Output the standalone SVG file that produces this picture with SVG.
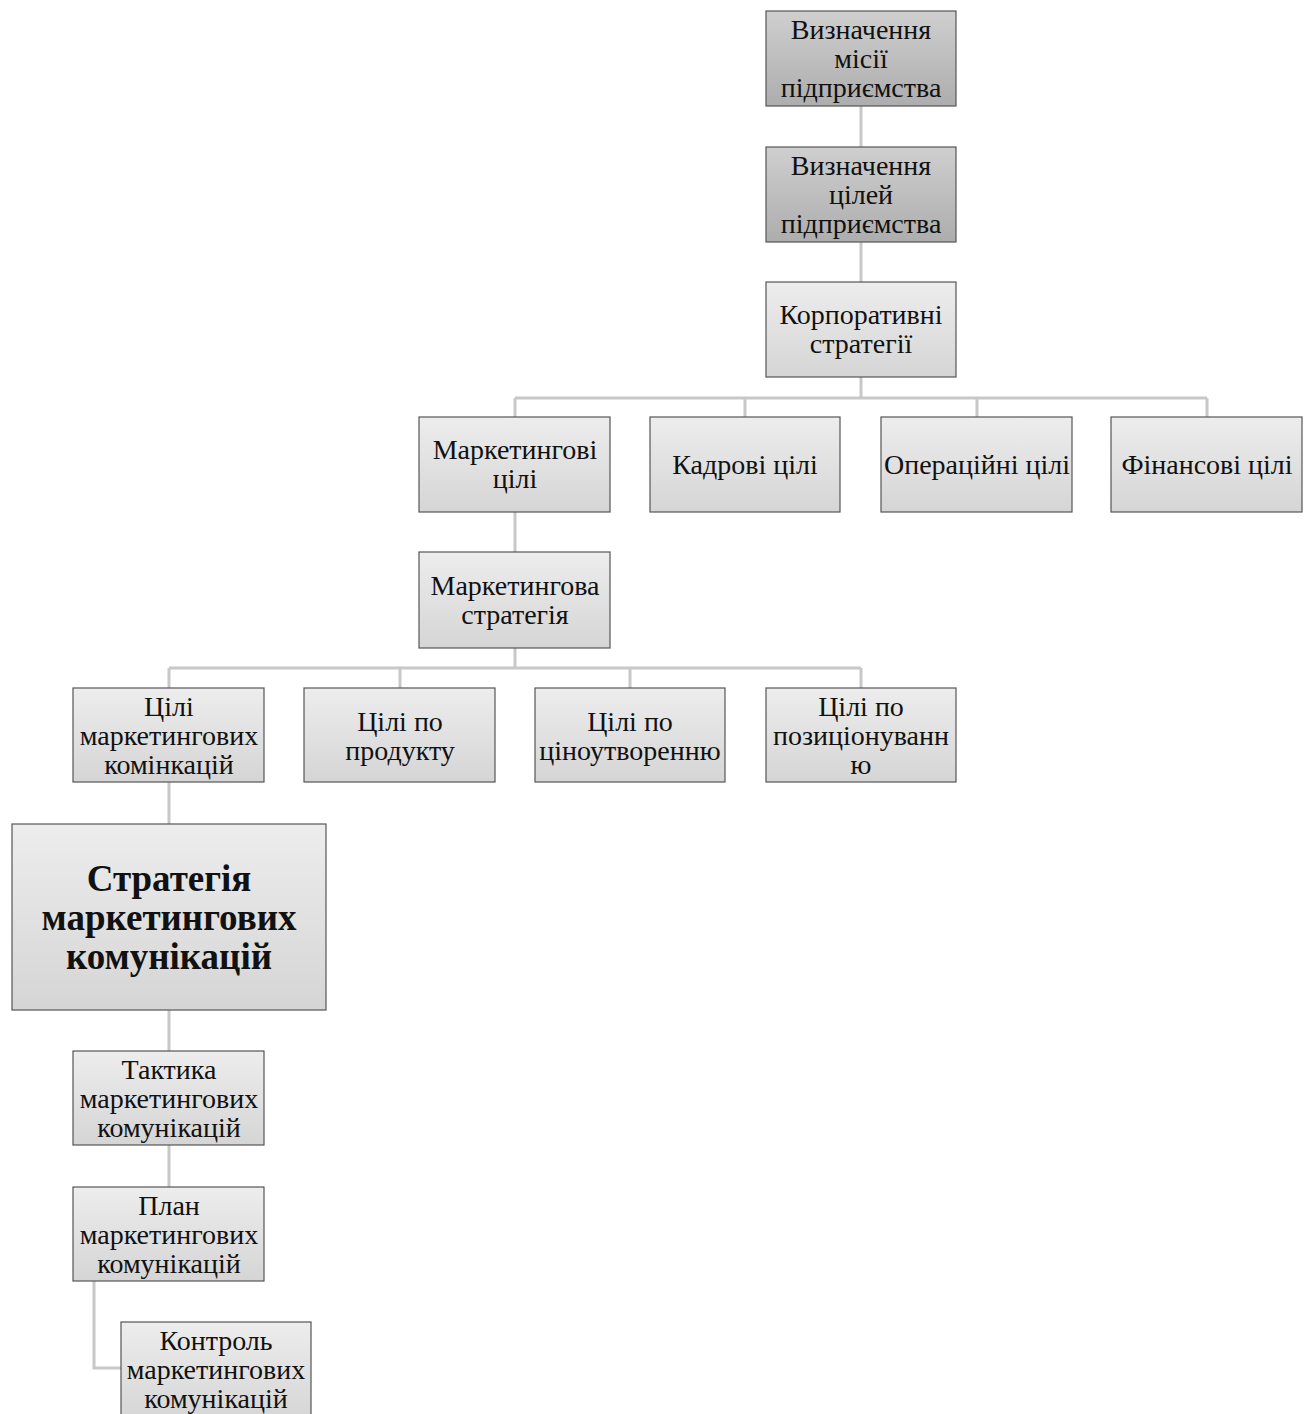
<svg xmlns="http://www.w3.org/2000/svg" width="1312" height="1414" viewBox="0 0 1312 1414">
<defs>
<linearGradient id="gL" x1="0" y1="0" x2="0" y2="1"><stop offset="0" stop-color="#ededed"/><stop offset="1" stop-color="#d5d5d5"/></linearGradient>
<linearGradient id="gD" x1="0" y1="0" x2="0" y2="1"><stop offset="0" stop-color="#cfcfcf"/><stop offset="1" stop-color="#adadad"/></linearGradient>
</defs>
<style>
.b{fill:url(#gL);stroke:#555;stroke-width:1.2}
.d{fill:url(#gD);stroke:#555;stroke-width:1.2}
.t{font-family:"Liberation Serif","Times New Roman",serif;font-size:28px;fill:#111;text-anchor:middle}
.bt{font-family:"Liberation Serif","Times New Roman",serif;font-size:37px;font-weight:bold;fill:#111;text-anchor:middle}
.c{fill:none;stroke:#c8c8c8;stroke-width:3}
</style>
<rect width="1312" height="1414" fill="#fff"/>
<g id="connectors">
<path class="c" d="M861 106V147M861 242V282M861 377V398M515 398H1207M515 398V417M745 398V417M977 398V417M1207 398V417"/>
<path class="c" d="M515 512V552M515 648V668M169 668H861M169 668V688M400 668V688M630 668V688M861 668V688"/>
<path class="c" d="M169 782V824M169 1010V1051M169 1145V1187M94 1281V1368H121"/>
</g>
<g id="n1"><rect class="d" x="766" y="11" width="190" height="95"/><text class="t" x="861" y="39">Визначення</text><text class="t" x="861" y="68">місії</text><text class="t" x="861" y="97">підприємства</text></g>
<g id="n2"><rect class="d" x="766" y="147" width="190" height="95"/><text class="t" x="861" y="175">Визначення</text><text class="t" x="861" y="204">цілей</text><text class="t" x="861" y="233">підприємства</text></g>
<g id="n3"><rect class="b" x="766" y="282" width="190" height="95"/><text class="t" x="861" y="324">Корпоративні</text><text class="t" x="861" y="353">стратегії</text></g>
<g id="n4"><rect class="b" x="419" y="417" width="191" height="95"/><text class="t" x="515" y="459">Маркетингові</text><text class="t" x="515" y="488">цілі</text></g>
<g id="n5"><rect class="b" x="650" y="417" width="190" height="95"/><text class="t" x="745" y="474">Кадрові цілі</text></g>
<g id="n6"><rect class="b" x="881" y="417" width="191" height="95"/><text class="t" x="977" y="474">Операційні цілі</text></g>
<g id="n7"><rect class="b" x="1111" y="417" width="191" height="95"/><text class="t" x="1207" y="474">Фінансові цілі</text></g>
<g id="n8"><rect class="b" x="419" y="552" width="191" height="96"/><text class="t" x="515" y="595">Маркетингова</text><text class="t" x="515" y="624">стратегія</text></g>
<g id="n9"><rect class="b" x="73" y="688" width="191" height="94"/><text class="t" x="169" y="716">Цілі</text><text class="t" x="169" y="745">маркетингових</text><text class="t" x="169" y="774">комінкацій</text></g>
<g id="n10"><rect class="b" x="304" y="688" width="191" height="94"/><text class="t" x="400" y="731">Цілі по</text><text class="t" x="400" y="760">продукту</text></g>
<g id="n11"><rect class="b" x="535" y="688" width="190" height="94"/><text class="t" x="630" y="731">Цілі по</text><text class="t" x="630" y="760">ціноутворенню</text></g>
<g id="n12"><rect class="b" x="766" y="688" width="190" height="94"/><text class="t" x="861" y="716">Цілі по</text><text class="t" x="861" y="745">позиціонуванн</text><text class="t" x="861" y="774">ю</text></g>
<g id="n13"><rect class="b" x="12" y="824" width="314" height="186"/><text class="bt" x="169" y="891">Стратегія</text><text class="bt" x="169" y="930">маркетингових</text><text class="bt" x="169" y="969">комунікацій</text></g>
<g id="n14"><rect class="b" x="73" y="1051" width="191" height="94"/><text class="t" x="169" y="1079">Тактика</text><text class="t" x="169" y="1108">маркетингових</text><text class="t" x="169" y="1137">комунікацій</text></g>
<g id="n15"><rect class="b" x="73" y="1187" width="191" height="94"/><text class="t" x="169" y="1215">План</text><text class="t" x="169" y="1244">маркетингових</text><text class="t" x="169" y="1273">комунікацій</text></g>
<g id="n16"><rect class="b" x="121" y="1322" width="190" height="100"/><text class="t" x="216" y="1350">Контроль</text><text class="t" x="216" y="1379">маркетингових</text><text class="t" x="216" y="1408">комунікацій</text></g>
</svg>
